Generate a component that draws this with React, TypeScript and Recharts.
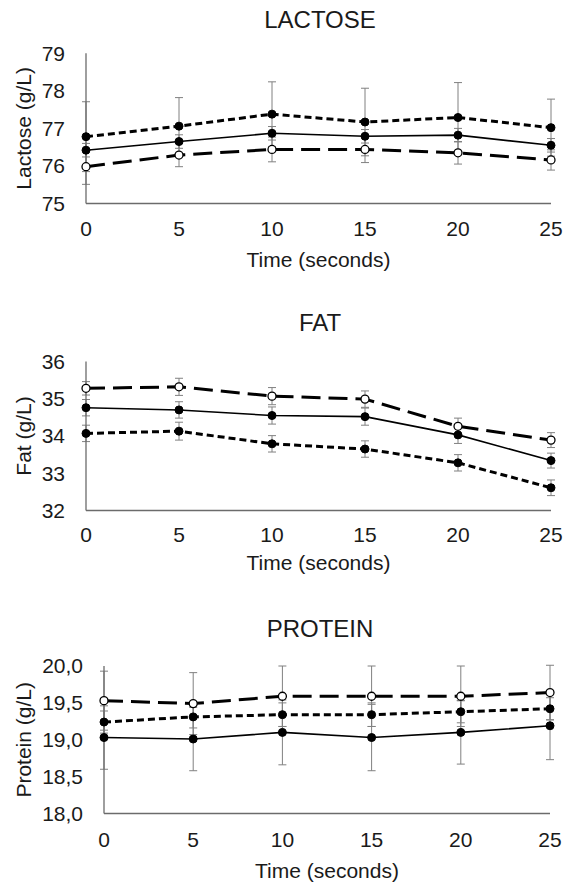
import React from 'react';
import { LineChart, Line, XAxis, YAxis, ErrorBar } from 'recharts';

const timeSeconds = [0, 5, 10, 15, 20, 25];

const lactoseSolid = [76.42, 76.65, 76.87, 76.79, 76.82, 76.55];
const lactoseSolidErr = [0.18, 0.18, 0.18, 0.18, 0.18, 0.18];
const lactoseShortDash = [76.78, 77.06, 77.38, 77.17, 77.29, 77.02];
const lactoseShortDashErr = [0.93, 0.76, 0.86, 0.9, 0.93, 0.76];
const lactoseLongDash = [75.98, 76.29, 76.44, 76.44, 76.35, 76.16];
const lactoseLongDashErr = [0.47, 0.31, 0.33, 0.35, 0.3, 0.27];
const lactoseTicks = [75, 76, 77, 78, 79];

const fatSolid = [34.76, 34.7, 34.55, 34.52, 34.03, 33.34];
const fatSolidErr = [0.22, 0.22, 0.23, 0.23, 0.23, 0.2];
const fatShortDash = [34.07, 34.13, 33.79, 33.65, 33.28, 32.61];
const fatShortDashErr = [0.22, 0.24, 0.22, 0.22, 0.22, 0.21];
const fatLongDash = [35.28, 35.32, 35.07, 34.99, 34.26, 33.89];
const fatLongDashErr = [0.18, 0.23, 0.23, 0.22, 0.22, 0.2];
const fatTicks = [32, 33, 34, 35, 36];

const proteinSolid = [19.03, 19.01, 19.1, 19.03, 19.1, 19.19];
const proteinSolidErr = [0.43, 0.43, 0.44, 0.45, 0.43, 0.46];
const proteinShortDash = [19.24, 19.31, 19.34, 19.34, 19.38, 19.42];
const proteinShortDashErr = [0.15, 0.15, 0.16, 0.16, 0.15, 0.15];
const proteinLongDash = [19.53, 19.49, 19.59, 19.59, 19.59, 19.64];
const proteinLongDashErr = [0.4, 0.42, 0.41, 0.41, 0.41, 0.37];
const proteinTicks = [18, 18.5, 19, 19.5, 20];

const FONT = '"Liberation Sans", Arial, sans-serif';
const TEXT = '#1a1a1a';
const AXIS = '#6b6b6b';
const ERR = '#808080';

function buildRows(solid: number[], solidErr: number[], shortD: number[], shortErr: number[], longD: number[], longErr: number[]) {
  return timeSeconds.map((t, i) => ({
    time: t,
    solid: solid[i],
    solidErr: solidErr[i],
    shortDash: shortD[i],
    shortDashErr: shortErr[i],
    longDash: longD[i],
    longDashErr: longErr[i],
  }));
}

const lactoseRows = buildRows(lactoseSolid, lactoseSolidErr, lactoseShortDash, lactoseShortDashErr, lactoseLongDash, lactoseLongDashErr);
const fatRows = buildRows(fatSolid, fatSolidErr, fatShortDash, fatShortDashErr, fatLongDash, fatLongDashErr);
const proteinRows = buildRows(proteinSolid, proteinSolidErr, proteinShortDash, proteinShortDashErr, proteinLongDash, proteinLongDashErr);

type PanelProps = {
  top: number;
  height: number;
  marginTop: number;
  xAxisHeight: number;
  yWidth: number;
  marginRight: number;
  rows: any[];
  domain: [number, number];
  ticks: number[];
  fmt?: (v: number) => string;
  xTickMargin: number;
};

function Panel(p: PanelProps) {
  const tickStyle = { fill: TEXT, fontSize: 21, fontFamily: FONT };
  return (
    <div style={{ position: 'absolute', left: 0, top: p.top }}>
      <LineChart
        width={563}
        height={p.height}
        data={p.rows}
        margin={{ top: p.marginTop, right: p.marginRight, bottom: 0, left: 0 }}
      >
        <XAxis
          type="number"
          dataKey="time"
          domain={[0, 25]}
          ticks={timeSeconds}
          interval={0}
          tickLine={false}
          tickMargin={p.xTickMargin}
          height={p.xAxisHeight}
          stroke={AXIS}
          strokeWidth={1.3}
          tick={tickStyle}
        />
        <YAxis
          type="number"
          domain={p.domain}
          ticks={p.ticks}
          interval={0}
          tickLine={false}
          tickMargin={15}
          width={p.yWidth}
          stroke={AXIS}
          strokeWidth={1.3}
          tick={tickStyle}
          tickFormatter={p.fmt}
          allowDataOverflow
        />
        <Line
          dataKey="solid"
          name="Solid"
          stroke="#000"
          strokeWidth={1.6}
          isAnimationActive={false}
          dot={{ r: 4, fill: '#000', stroke: '#000', strokeWidth: 1, strokeDasharray: 'none' }}
        >
          <ErrorBar dataKey="solidErr" direction="y" width={4} stroke={ERR} strokeWidth={1} />
        </Line>
        <Line
          dataKey="shortDash"
          name="Short dash"
          stroke="#000"
          strokeWidth={3}
          strokeDasharray="7 4"
          isAnimationActive={false}
          dot={{ r: 4, fill: '#000', stroke: '#000', strokeWidth: 1, strokeDasharray: 'none' }}
        >
          <ErrorBar dataKey="shortDashErr" direction="y" width={4} stroke={ERR} strokeWidth={1} strokeDasharray="none" />
        </Line>
        <Line
          dataKey="longDash"
          name="Long dash"
          stroke="#000"
          strokeWidth={3}
          strokeDasharray="19 8"
          isAnimationActive={false}
          dot={{ r: 4, fill: '#fff', stroke: '#000', strokeWidth: 1.3, strokeDasharray: 'none' }}
        >
          <ErrorBar dataKey="longDashErr" direction="y" width={4} stroke={ERR} strokeWidth={1} strokeDasharray="none" />
        </Line>
      </LineChart>
    </div>
  );
}

const titleStyle = { fontFamily: FONT, fontSize: 24, fill: TEXT } as const;
const axisTitleStyle = { fontFamily: FONT, fontSize: 21, fill: TEXT } as const;

function YTitle({ x, y, text }: { x: number; y: number; text: string }) {
  return (
    <text x={x} y={y} transform={`rotate(-90 ${x} ${y})`} textAnchor="middle" style={axisTitleStyle}>
      {text}
    </text>
  );
}

export default function App() {
  const commaFmt = (v: number) => v.toFixed(1).replace('.', ',');
  return (
    <div style={{ position: 'absolute', left: 0, top: 0, width: 563, height: 883, background: '#fff' }}>
      <Panel
        top={0}
        height={290}
        marginTop={53.3}
        xAxisHeight={86.5}
        yWidth={86}
        marginRight={12}
        rows={lactoseRows}
        domain={[75, 79]}
        ticks={lactoseTicks}
        xTickMargin={12}
      />
      <Panel
        top={300}
        height={290}
        marginTop={61.5}
        xAxisHeight={79.5}
        yWidth={86}
        marginRight={12}
        rows={fatRows}
        domain={[32, 36]}
        ticks={fatTicks}
        xTickMargin={11}
      />
      <Panel
        top={610}
        height={273}
        marginTop={56}
        xAxisHeight={69.5}
        yWidth={104}
        marginRight={13}
        rows={proteinRows}
        domain={[18, 20]}
        ticks={proteinTicks}
        fmt={commaFmt}
        xTickMargin={13}
      />
      <svg width={563} height={883} style={{ position: 'absolute', left: 0, top: 0, pointerEvents: 'none' }}>
        <text x={320} y={28.3} textAnchor="middle" style={titleStyle}>LACTOSE</text>
        <text x={320} y={331} textAnchor="middle" style={titleStyle}>FAT</text>
        <text x={320} y={637} textAnchor="middle" style={titleStyle}>PROTEIN</text>
        <YTitle x={31} y={128.4} text="Lactose (g/L)" />
        <YTitle x={31} y={436} text="Fat (g/L)" />
        <YTitle x={31} y={739.8} text="Protein (g/L)" />
        <text x={318.5} y={267} textAnchor="middle" style={axisTitleStyle}>Time (seconds)</text>
        <text x={318.5} y={570} textAnchor="middle" style={axisTitleStyle}>Time (seconds)</text>
        <text x={327} y={877.5} textAnchor="middle" style={axisTitleStyle}>Time (seconds)</text>
      </svg>
    </div>
  );
}
